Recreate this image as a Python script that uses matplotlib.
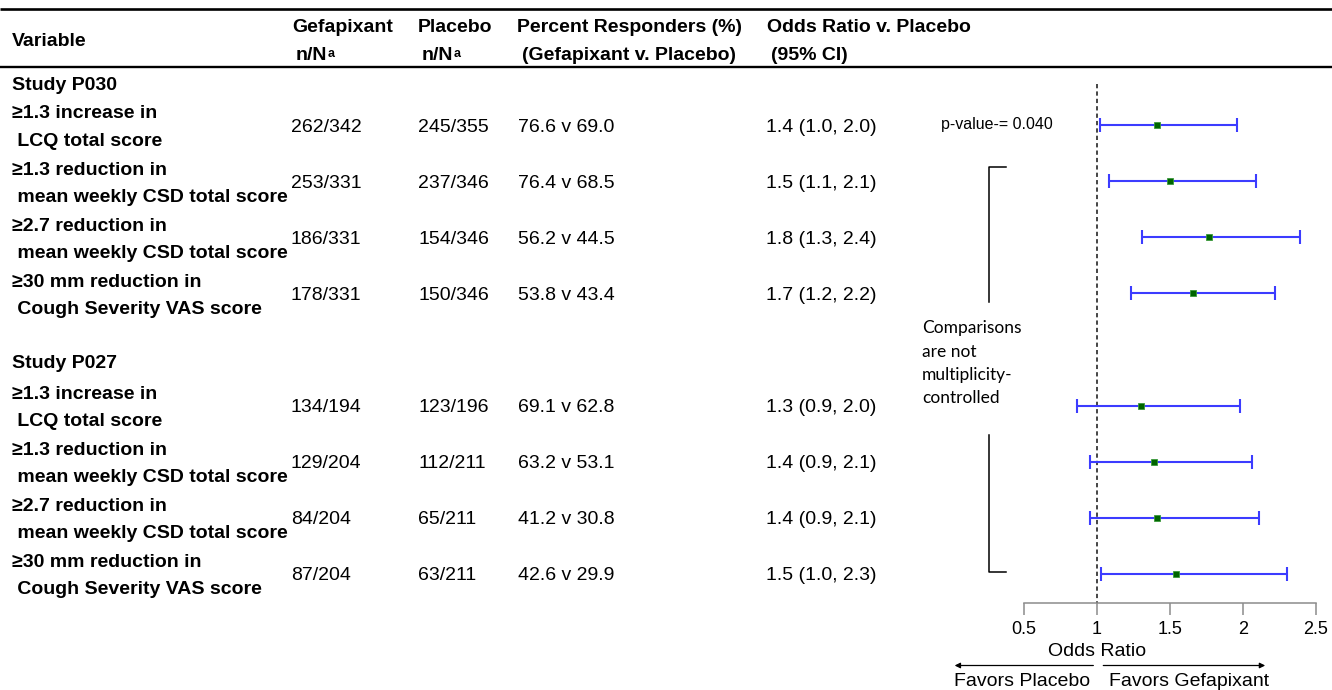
import matplotlib
matplotlib.use("Agg")
import matplotlib.pyplot as plt

plt.rcParams['font.family'] = ['Liberation Sans', 'DejaVu Sans']

# ---- data ----
studies = ["Study P030", "Study P027"]
variable_line1 = ["≥1.3 increase in", "≥1.3 reduction in", "≥2.7 reduction in", "≥30 mm reduction in"] * 2
variable_line2 = [" LCQ total score", " mean weekly CSD total score",
                  " mean weekly CSD total score", " Cough Severity VAS score"] * 2
gef_n = [262, 253, 186, 178, 134, 129, 84, 87]
gef_N = [342, 331, 331, 331, 194, 204, 204, 204]
pbo_n = [245, 237, 154, 150, 123, 112, 65, 63]
pbo_N = [355, 346, 346, 346, 196, 211, 211, 211]
odds_ratio = [1.41, 1.50, 1.77, 1.66, 1.30, 1.39, 1.41, 1.54]
ci_low = [1.02, 1.08, 1.31, 1.23, 0.86, 0.95, 0.95, 1.03]
ci_high = [1.96, 2.09, 2.39, 2.22, 1.98, 2.06, 2.11, 2.30]
p_value_first = 0.040
note_lines = ["Comparisons", "are not", "multiplicity-", "controlled"]
xticks = [0.5, 1, 1.5, 2, 2.5]
xtick_labels = ["0.5", "1", "1.5", "2", "2.5"]

# ---- layout (pixels) ----
W, H = 1332, 690
FS = 14
fig = plt.figure(figsize=(W / 100, H / 100), dpi=100)
tab = fig.add_axes([0, 0, 1, 1])
tab.set_xlim(0, W)
tab.set_ylim(H, 0)
tab.axis('off')

axis_y = 603
fx0, fx1 = 1024, 1316
forest = fig.add_axes([fx0 / W, (H - axis_y) / H, (fx1 - fx0) / W, axis_y / H])
forest.patch.set_visible(False)
forest.set_xlim(0.5, 2.5)
forest.set_ylim(axis_y, 0)

slots = [0, 1, 2, 3, 5, 6, 7, 8]
row_y = [125 + 56.1 * s for s in slots]

# header rules
tab.plot([0, W], [8.5, 8.5], color='black', lw=1.9, solid_capstyle='butt')
tab.plot([0, W], [67, 67], color='black', lw=1.7, solid_capstyle='butt')

# header text
hdr = dict(fontsize=FS, weight='bold', va='baseline')
tab.text(12, 45.5, "Variable", **hdr)
tab.text(292, 31.5, "Gefapixant", **hdr)
tab.text(418, 31.5, "Placebo", **hdr)
tab.text(517, 31.5, "Percent Responders (%)", **hdr)
tab.text(522, 59.5, "(Gefapixant v. Placebo)", **hdr)
tab.text(767, 31.5, "Odds Ratio v. Placebo", **hdr)
tab.text(771, 59.5, "(95% CI)", **hdr)
for x in (296, 422):
    t = tab.text(x, 59.5, "n/N", **hdr)
    tab.annotate("a", xy=(1.0, 0.22), xycoords=t, fontsize=9, weight='bold',
                 va='bottom', ha='left')

# study headings
tab.text(12, row_y[0] - 35.5, studies[0], fontsize=FS, weight='bold', va='baseline')
tab.text(12, row_y[4] - 37, studies[1], fontsize=FS, weight='bold', va='baseline')

# table rows
for i, yc in enumerate(row_y):
    tab.text(12, yc - 6.5, variable_line1[i], fontsize=FS, weight='bold', va='baseline')
    tab.text(12, yc + 20.5, variable_line2[i], fontsize=FS, weight='bold', va='baseline')
    tab.text(291, yc + 6.5, f"{gef_n[i]}/{gef_N[i]}", fontsize=FS, va='baseline')
    tab.text(418, yc + 6.5, f"{pbo_n[i]}/{pbo_N[i]}", fontsize=FS, va='baseline')
    pg = 100 * gef_n[i] / gef_N[i]
    pp = 100 * pbo_n[i] / pbo_N[i]
    tab.text(518, yc + 6.5, f"{pg:.1f} v {pp:.1f}", fontsize=FS, va='baseline')
    tab.text(766, yc + 6.5, f"{odds_ratio[i]:.1f} ({ci_low[i]:.1f}, {ci_high[i]:.1f})",
             fontsize=FS, va='baseline')

tab.text(941, row_y[0] + 4.5, f"p-value-= {p_value_first:.3f}", fontsize=11.5, va='baseline')

# bracket and note
tab.plot([1006, 989, 989], [167, 167, 302], color='black', lw=1.1)
tab.plot([989, 989, 1006], [435, 572, 572], color='black', lw=1.1)
for k, line in enumerate(note_lines):
    tab.text(922, 327 + 23.3 * k, line, fontsize=12.5, family=['Lato', 'DejaVu Sans'],
             va='center_baseline')

# forest plot
forest.plot([1, 1], [84, axis_y], color='#444444', lw=1.4, ls=(0, (2.2, 1.6)))
xerr = [[o - l for o, l in zip(odds_ratio, ci_low)],
        [h - o for o, h in zip(odds_ratio, ci_high)]]
forest.errorbar(odds_ratio, row_y, xerr=xerr, fmt='none', ecolor='#3c3cff',
                elinewidth=1.5, capsize=5, capthick=1.5)
forest.plot(odds_ratio, row_y, 's', color='#006400', ms=5, mec='#3a9a3a', mew=0.6)

for s in ('top', 'left', 'right'):
    forest.spines[s].set_visible(False)
forest.spines['bottom'].set_bounds(0.5, 2.5)
forest.spines['bottom'].set_color('#8c8c8c')
forest.spines['bottom'].set_linewidth(1.1)
forest.set_yticks([])
forest.set_xticks(xticks)
forest.set_xticklabels(xtick_labels, fontsize=13)
forest.tick_params(axis='x', direction='out', length=8.6, width=1.1, color='#8c8c8c', pad=4)

forest.text(1.0, 656.5, "Odds Ratio", fontsize=FS, ha='center', va='baseline', clip_on=False)
arrow = dict(arrowstyle='-|>', color='black', lw=0.9, mutation_scale=8, shrinkA=0, shrinkB=0)
forest.annotate('', xy=(0.025, 665.5), xytext=(0.975, 665.5), arrowprops=arrow, annotation_clip=False)
forest.annotate('', xy=(2.152, 665.5), xytext=(1.043, 665.5), arrowprops=arrow, annotation_clip=False)
forest.text(0.486, 685.5, "Favors Placebo", fontsize=FS, ha='center', va='baseline', clip_on=False)
forest.text(1.629, 685.5, "Favors Gefapixant", fontsize=FS, ha='center', va='baseline', clip_on=False)

fig.savefig("out.png", dpi=100)
